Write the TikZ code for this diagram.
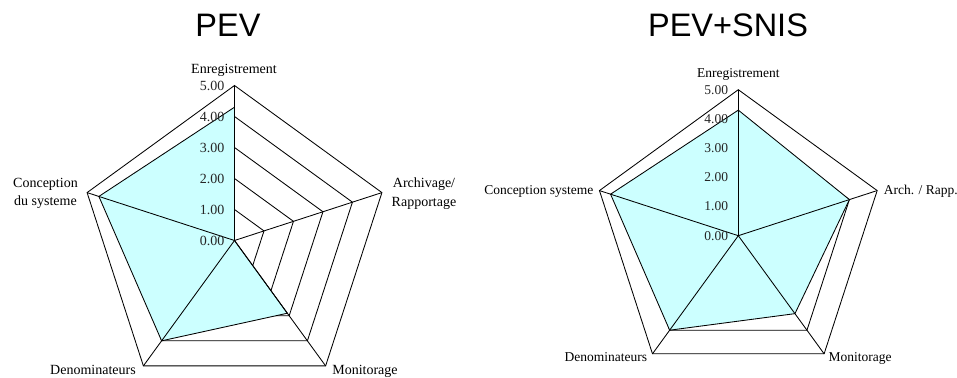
\documentclass[tikz,border=0pt]{standalone}
\usepackage{fontspec}
\setmainfont{Liberation Serif}
\setsansfont{Liberation Sans}
\usetikzlibrary{positioning}

\definecolor{radarcyan}{HTML}{CCFFFF}

\tikzset{
  gridline/.style={black, line width=0.85pt, line join=miter},
  datafill/.style={fill=radarcyan, draw=black, line width=0.85pt},
  ticklabel/.style={inner sep=0pt, text=black!85},
  axislabel/.style={inner sep=0pt, align=center},
  charttitle/.style={inner sep=0pt, anchor=base, font=\sffamily\fontsize{32.5}{34}\selectfont},
}

\begin{document}
\begin{tikzpicture}[x=1pt,y=1pt]
            \useasboundingbox (0,0) rectangle (957,377);

            % Titles
            \node[charttitle] (title1) at (228,340) {PEV};
            \node[charttitle] (title2) at (728,340.3) {PEV+SNIS};

            % Left radar: PEV
            \begin{scope}[shift={(234.5,136.5)}, x=31pt, y=31pt,
                          every node/.append style={font=\fontsize{14}{15}\selectfont}]
              % grid pentagons
              \foreach \r in {1,...,5}
                \draw[gridline] (90:\r) -- (18:\r) -- (-54:\r) -- (-126:\r) -- (162:\r) -- cycle;
              % scores
              \draw[datafill] (90:4.3) -- (18:0) -- (-54:2.9) -- (-126:4.0) -- (162:4.6) -- cycle;
              % spokes
              \foreach \a in {90,18,-54,-126,162}
                \draw[gridline] (0,0) -- (\a:5);
              % value axis
              \foreach \v in {0,...,5}
                \node[ticklabel, left=10pt] (tickA\v) at (0,\v) {\v.00};
            \end{scope}

            % Left radar: category labels
            \begin{scope}[every node/.append style={font=\fontsize{14}{18.7}\selectfont}]
              \node[axislabel, anchor=base] (enrA) at (234,303) {Enregistrement};
              \node[axislabel] (arcA) at (424,183.6) {Archivage/\\Rapportage};
              \node[axislabel, anchor=base] (monA) at (365,2.7) {Monitorage};
              \node[axislabel, anchor=base] (denA) at (93,2.7) {Denominateurs};
              \node[axislabel] (conA) at (45.5,183.6) {Conception\\du systeme};
            \end{scope}

            % Right radar: PEV+SNIS
            \begin{scope}[shift={(738.3,141.3)}, x=29.2pt, y=29.2pt,
                          every node/.append style={font=\fontsize{13.5}{14.5}\selectfont}]
              % grid pentagons
              \foreach \r in {1,...,5}
                \draw[gridline] (90:\r) -- (18:\r) -- (-54:\r) -- (-126:\r) -- (162:\r) -- cycle;
              % scores
              \draw[datafill] (90:4.3) -- (18:4.0) -- (-54:3.3) -- (-126:4.0) -- (162:4.6) -- cycle;
              % spokes
              \foreach \a in {90,18,-54,-126,162}
                \draw[gridline] (0,0) -- (\a:5);
              % value axis
              \foreach \v in {0,...,5}
                \node[ticklabel, left=10pt] (tickB\v) at (0,\v) {\v.00};
            \end{scope}

            % Right radar: category labels
            \begin{scope}[every node/.append style={font=\fontsize{13.5}{16}\selectfont}]
              \node[axislabel, anchor=base] (enrB) at (738.3,299.7) {Enregistrement};
              \node[axislabel, anchor=base] (arcB) at (920.7,182.7) {Arch. / Rapp.};
              \node[axislabel, anchor=base] (monB) at (860,15.3) {Monitorage};
              \node[axislabel, anchor=base] (denB) at (605.8,15.3) {Denominateurs};
              \node[axislabel, anchor=base] (conB) at (538.8,182.7) {Conception systeme};
            \end{scope}
        \end{tikzpicture}
\end{document}
